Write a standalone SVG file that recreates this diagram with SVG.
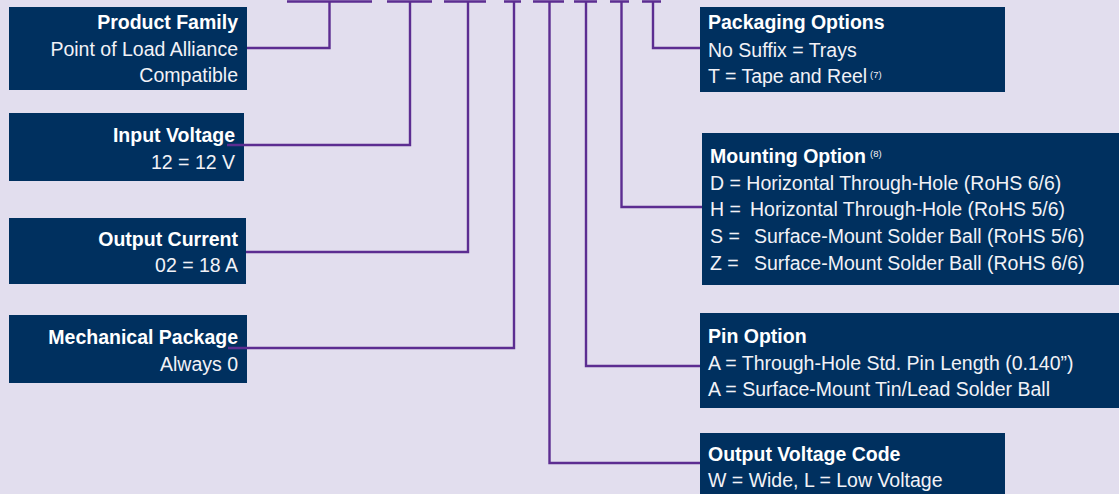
<svg xmlns="http://www.w3.org/2000/svg" width="1119" height="494" viewBox="0 0 1119 494">
<style>
.bg{fill:#E2DEEE}
.box{fill:#00305F}
.t{font-family:"Liberation Sans",Arial,sans-serif;font-size:19.5px;fill:#F2F2F7}
.b{font-weight:bold;fill:#FFFFFF}
.r{text-anchor:end}
.sup{font-family:"Liberation Sans",Arial,sans-serif;font-size:9.5px;font-weight:normal;fill:#F2F2F7}
.c{fill:none;stroke:#5C2D91;stroke-width:2.4;stroke-linejoin:miter;stroke-linecap:butt}
</style>
<rect class="bg" x="0" y="0" width="1119" height="494"/>
<g id="product-family">
<rect class="box" x="9" y="7" width="238" height="83"/>
<text class="t b r" x="238" y="29">Product Family</text>
<text class="t r" x="238" y="56">Point of Load Alliance</text>
<text class="t r" x="238" y="82">Compatible</text>
</g>
<g id="input-voltage">
<rect class="box" x="9" y="113" width="235" height="68"/>
<text class="t b r" x="235" y="142">Input Voltage</text>
<text class="t r" x="235" y="169">12 = 12 V</text>
</g>
<g id="output-current">
<rect class="box" x="9" y="218" width="237" height="66"/>
<text class="t b r" x="238" y="246">Output Current</text>
<text class="t r" x="238" y="272">02 = 18 A</text>
</g>
<g id="mechanical-package">
<rect class="box" x="9" y="315" width="238" height="68"/>
<text class="t b r" x="238" y="344">Mechanical Package</text>
<text class="t r" x="238" y="371">Always 0</text>
</g>
<g id="packaging-options">
<rect class="box" x="700" y="7" width="305" height="85"/>
<text class="t b" x="708" y="29">Packaging Options</text>
<text class="t" x="708" y="57">No Suffix = Trays</text>
<text class="t" x="708" y="83">T = Tape and Reel</text>
<text class="sup" x="870" y="78">(7)</text>
</g>
<g id="mounting-option">
<rect class="box" x="702" y="133" width="417" height="152"/>
<text class="t b" x="710" y="163">Mounting Option</text>
<text class="sup" x="870" y="157">(8)</text>
<text class="t" x="710" y="190">D = Horizontal Through-Hole (RoHS 6/6)</text>
<text class="t" x="710" y="216">H =<tspan x="750">Horizontal Through-Hole (RoHS 5/6)</tspan></text>
<text class="t" x="710" y="243">S =<tspan x="754">Surface-Mount Solder Ball (RoHS 5/6)</tspan></text>
<text class="t" x="710" y="270">Z =<tspan x="754">Surface-Mount Solder Ball (RoHS 6/6)</tspan></text>
</g>
<g id="pin-option">
<rect class="box" x="700" y="313" width="419" height="95"/>
<text class="t b" x="708" y="343">Pin Option</text>
<text class="t" x="708" y="370">A = Through-Hole Std. Pin Length (0.140”)</text>
<text class="t" x="708" y="396">A = Surface-Mount Tin/Lead Solder Ball</text>
</g>
<g id="output-voltage-code">
<rect class="box" x="700" y="433" width="305" height="61"/>
<text class="t b" x="708" y="461">Output Voltage Code</text>
<text class="t" x="708" y="487">W = Wide, L = Low Voltage</text>
</g>
<g id="connectors">
<path class="c" d="M287 1.5H372M387 1.5H432M444 1.5H486M504 1.5H521M533 1.5H564M574 1.5H597M610 1.5H629M642 1.5H661"/>
<path class="c" d="M329.5 1.5V48H247"/>
<path class="c" d="M410 1.5V145H227"/>
<path class="c" d="M468 1.5V252H246"/>
<path class="c" d="M514 1.5V348H228"/>
<path class="c" d="M549.5 1.5V463H700"/>
<path class="c" d="M586 1.5V366H700"/>
<path class="c" d="M621.5 1.5V207H702"/>
<path class="c" d="M653 1.5V48H700"/>
</g>
</svg>
